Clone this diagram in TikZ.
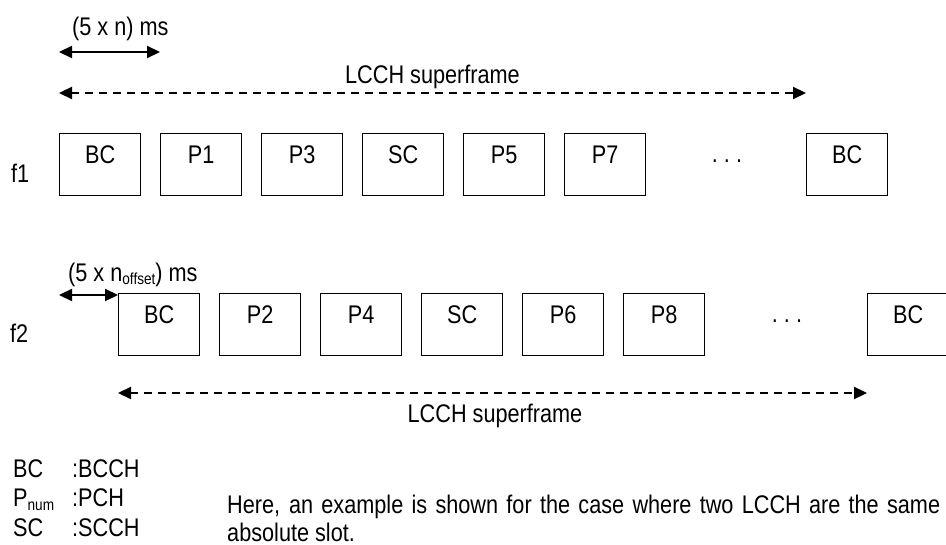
\documentclass[tikz,border=0pt]{standalone}
\usepackage{fontspec}
\setmainfont{Liberation Sans}[FakeStretch=0.85]
\usetikzlibrary{arrows.meta}
\newcommand{\smallsub}[1]{\raisebox{-3pt}{\fontsize{16}{16}\selectfont #1}}
\begin{document}
\begin{tikzpicture}[x=1pt,y=-1pt,
  txt/.style={font=\fontsize{25.5}{28}\selectfont, inner sep=0pt},
  slot/.style={draw, line width=1.2pt, minimum width=81pt, minimum height=62pt, inner sep=0pt,
    anchor=north west, font=\fontsize{25.5}{28}\selectfont, text height=18pt, text depth=20pt},
  arr/.style={line width=2.2pt, {Triangle[length=13pt,width=12pt]}-{Triangle[length=13pt,width=12pt]}},
  darr/.style={arr, dash pattern=on 8pt off 6pt}]
\useasboundingbox (0,0) rectangle (946,545);

% row f1
\node[slot] (a1) at (59,133) {BC};
\node[slot] (a2) at (160,133) {P1};
\node[slot] (a3) at (261,133) {P3};
\node[slot] (a4) at (362,133) {SC};
\node[slot] (a5) at (463,133) {P5};
\node[slot] (a6) at (564,133) {P7};
\node[slot] (a7) at (806,133) {BC};
\node[txt, anchor=base] (d1) at (727,163) {.\ .\ .};
\node[txt, anchor=base west] (f1) at (11,183) {f1};

% row f2
\node[slot] (b1) at (118,293) {BC};
\node[slot] (b2) at (219,293) {P2};
\node[slot] (b3) at (320,293) {P4};
\node[slot] (b4) at (421,293) {SC};
\node[slot] (b5) at (522,293) {P6};
\node[slot] (b6) at (623,293) {P8};
\node[slot] (b7) at (867,293) {BC};
\node[txt, anchor=base] (d2) at (787,323) {.\ .\ .};
\node[txt, anchor=base west] (f2) at (10,343) {f2};

% arrows and labels
\coordinate (ya) at (0,52);
\draw[arr] (a1.west |- ya) -- (a2.west |- ya);
\node[txt, anchor=base west] (lab1) at (72,36) {(5 x n) ms};

\coordinate (yb) at (0,93);
\draw[darr] (a1.west |- yb) -- (a7.west |- yb);
\node[txt, anchor=base] (lab2) at (432.5,84) {LCCH superframe};

\coordinate (yc) at (0,295);
\draw[arr] (a1.west |- yc) -- (b1.west |- yc);
\node[txt, anchor=base west] (lab3) at (68,282) {(5 x n\smallsub{offset}) ms};

\coordinate (yd) at (0,393);
\draw[darr] (b1.west |- yd) -- (b7.west |- yd);
\node[txt, anchor=base] (lab4) at (495,423) {LCCH superframe};

% legend
\node[txt, anchor=base west] (l1) at (13,478) {BC};
\node[txt, anchor=base west] (l1b) at (72,478) {:BCCH};
\node[txt, anchor=base west] (l2) at (13,507) {P\smallsub{num}};
\node[txt, anchor=base west] (l2b) at (72,507) {:PCH};
\node[txt, anchor=base west] (l3) at (13,536) {SC};
\node[txt, anchor=base west] (l3b) at (72,536) {:SCCH};

\node[txt, anchor=base west] (n1) at (227,513) {\makebox[713pt][s]{Here, an example is shown for the case where two LCCH are the same}};
\node[txt, anchor=base west] (n2) at (227,541) {absolute slot.};
\end{tikzpicture}
\end{document}
